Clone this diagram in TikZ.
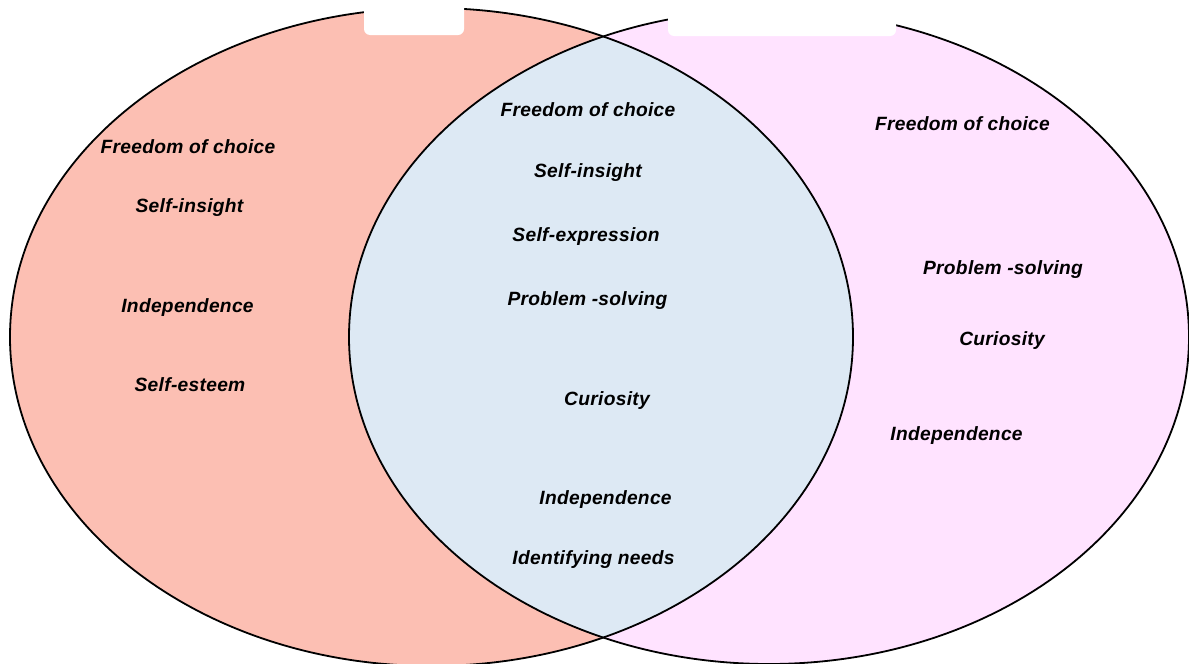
\documentclass[tikz,border=0pt]{standalone}
\usepackage{fontspec}
\setmainfont{Liberation Sans}[LetterSpace=1.5]
\definecolor{leftfill}{RGB}{252,191,179}
\definecolor{rightfill}{RGB}{255,227,255}
\definecolor{bothfill}{RGB}{221,233,244}
\begin{document}
\begin{tikzpicture}[x=1pt,y=-1pt,
  item/.style={anchor=base,inner sep=0pt,font=\fontsize{19.2}{22}\selectfont\bfseries\itshape},
  rim/.style={draw=black,line width=1.8pt},
  tab/.style={fill=white,rounded corners=6pt}]
\useasboundingbox (0,0) rectangle (1189,664);
\clip (0,0) rectangle (1189,664);
% the two sets and their overlap
\fill[leftfill] (431.5,337) ellipse [x radius=421.5pt, y radius=329pt];
\fill[rightfill] (769,337) ellipse [x radius=420pt, y radius=327pt];
\begin{scope}
  \clip (431.5,337) ellipse [x radius=421.5pt, y radius=329pt];
  \fill[bothfill] (769,337) ellipse [x radius=420pt, y radius=327pt];
\end{scope}
\draw[rim] (431.5,337) ellipse [x radius=421.5pt, y radius=329pt];
\draw[rim] (769,337) ellipse [x radius=420pt, y radius=327pt];
% blank title tabs on top
\fill[tab] (364,-12) rectangle (464,35);
\fill[tab] (668,-12) rectangle (896,36);
% left set
\node[item] (l1) at (188,153) {Freedom of choice};
\node[item] (l2) at (189.5,212) {Self-insight};
\node[item] (l3) at (187.5,312) {Independence};
\node[item] (l4) at (190,391) {Self-esteem};
% overlap
\node[item] (m1) at (588,116) {Freedom of choice};
\node[item] (m2) at (588,177) {Self-insight};
\node[item] (m3) at (586,241) {Self-expression};
\node[item] (m4) at (587.5,305) {Problem -solving};
\node[item] (m5) at (607,405) {Curiosity};
\node[item] (m6) at (605.5,504) {Independence};
\node[item] (m7) at (593.5,564) {Identifying needs};
% right set
\node[item] (r1) at (962.5,130) {Freedom of choice};
\node[item] (r2) at (1003,274) {Problem -solving};
\node[item] (r3) at (1002,345) {Curiosity};
\node[item] (r4) at (956.5,440) {Independence};
\end{tikzpicture}
\end{document}
